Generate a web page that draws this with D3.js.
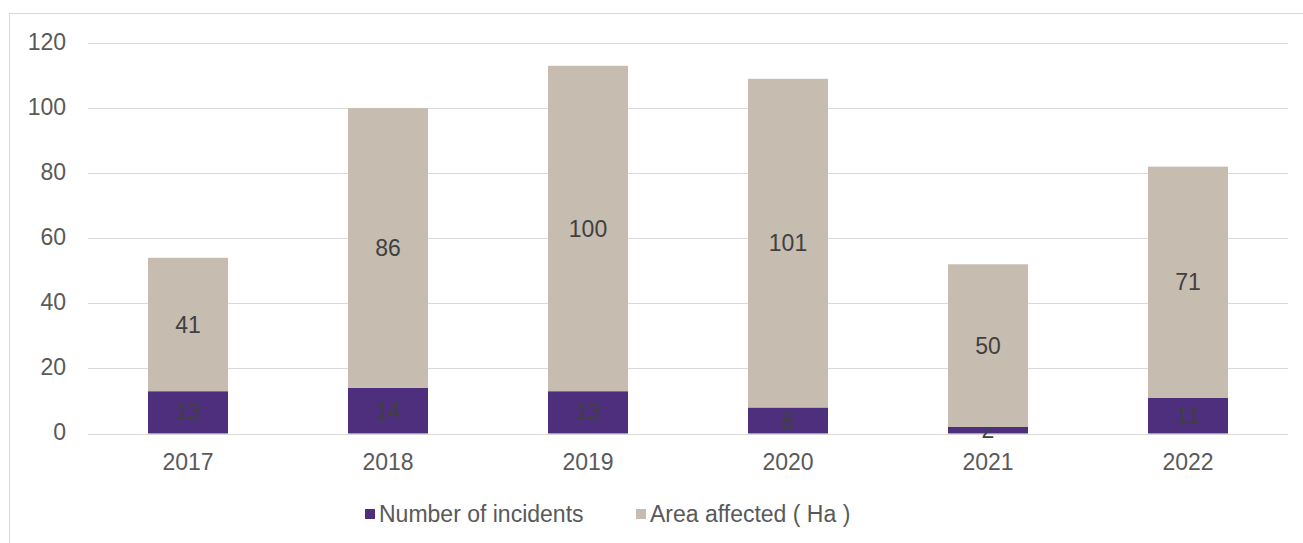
<!DOCTYPE html>
<html>
<head>
<meta charset="utf-8">
<script src="https://cdn.jsdelivr.net/npm/d3@7"></script>
<style>
  html, body { margin: 0; padding: 0; background: #fff; }
  svg { display: block; font-family: "Liberation Sans", Arial, sans-serif; }
</style>
</head>
<body>
<svg id="chart" width="1303" height="543"></svg>
<script>
// Yearly fire records
const years = ["2017", "2018", "2019", "2020", "2021", "2022"];
const incidents = [13, 14, 13, 8, 2, 11];
const areaHa = [41, 86, 100, 101, 50, 71];
const yTicks = [0, 20, 40, 60, 80, 100, 120];
const seriesNames = ["Number of incidents", "Area affected ( Ha )"];
const seriesColors = ["#4E2F7E", "#C6BDB0"];

const svg = d3.select("#chart");
const W = 1303, H = 543;
const plot = { left: 88, right: 1288, top: 43, bottom: 433.5 };
const FS = 23;

// outer chart frame
svg.append("rect")
  .attr("x", 9.5).attr("y", 13.5)
  .attr("width", W + 10).attr("height", H + 10)
  .attr("fill", "none").attr("stroke", "#D9D9D9").attr("stroke-width", 1);

const x = d3.scaleBand().domain(years).range([plot.left, plot.right]).paddingInner(0.6).paddingOuter(0.3);
const y = d3.scaleLinear().domain([0, 120]).range([plot.bottom, plot.top]);

// gridlines
svg.append("g").selectAll("line").data(yTicks).join("line")
  .attr("x1", plot.left).attr("x2", plot.right)
  .attr("y1", d => Math.round(y(d)) + 0.5).attr("y2", d => Math.round(y(d)) + 0.5)
  .attr("stroke", "#D9D9D9").attr("stroke-width", 1);

// y axis labels
const yAxis = d3.axisLeft(y).tickValues(yTicks).tickSize(0).tickPadding(0);
const gy = svg.append("g").attr("transform", `translate(66,-1)`).call(yAxis);
gy.select(".domain").remove();
gy.selectAll("text").attr("font-size", FS).attr("fill", "#595959")
  .attr("font-family", "Liberation Sans, Arial, sans-serif");

// x axis labels
const xAxis = d3.axisBottom(x).tickSize(0).tickPadding(0);
const gx = svg.append("g").attr("transform", `translate(0,${plot.bottom + 20})`).call(xAxis);
gx.select(".domain").remove();
gx.selectAll("text").attr("font-size", FS).attr("fill", "#595959")
  .attr("font-family", "Liberation Sans, Arial, sans-serif");

// stacked data
const rows = years.map((yr, i) => ({ year: yr, inc: incidents[i], area: areaHa[i] }));
const stack = d3.stack().keys(["inc", "area"])(rows);

const layers = svg.append("g").selectAll("g").data(stack).join("g")
  .attr("fill", (d, i) => seriesColors[i]);

layers.selectAll("rect").data(d => d).join("rect")
  .attr("x", d => x(d.data.year))
  .attr("width", x.bandwidth())
  .attr("y", d => y(d[1]))
  .attr("height", d => y(d[0]) - y(d[1]));

// value labels centred in each segment
layers.each(function(layer) {
  d3.select(this).selectAll("text").data(layer).join("text")
    .attr("x", d => x(d.data.year) + x.bandwidth() / 2)
    .attr("y", d => (y(d[0]) + y(d[1])) / 2)
    .attr("dy", "0.35em")
    .attr("text-anchor", "middle")
    .attr("font-size", FS)
    .attr("fill", "#404040")
    .text(d => d[1] - d[0]);
});

// legend
const legend = svg.append("g");
const legendItems = [{ x: 365 }, { x: 636 }];
legendItems.forEach((it, i) => {
  legend.append("rect").attr("x", it.x).attr("y", 509).attr("width", 10).attr("height", 10)
    .attr("fill", seriesColors[i]);
  legend.append("text").attr("x", it.x + 14).attr("y", 514).attr("dy", "0.35em")
    .attr("font-size", FS).attr("fill", "#595959").text(seriesNames[i]);
});
</script>
</body>
</html>
